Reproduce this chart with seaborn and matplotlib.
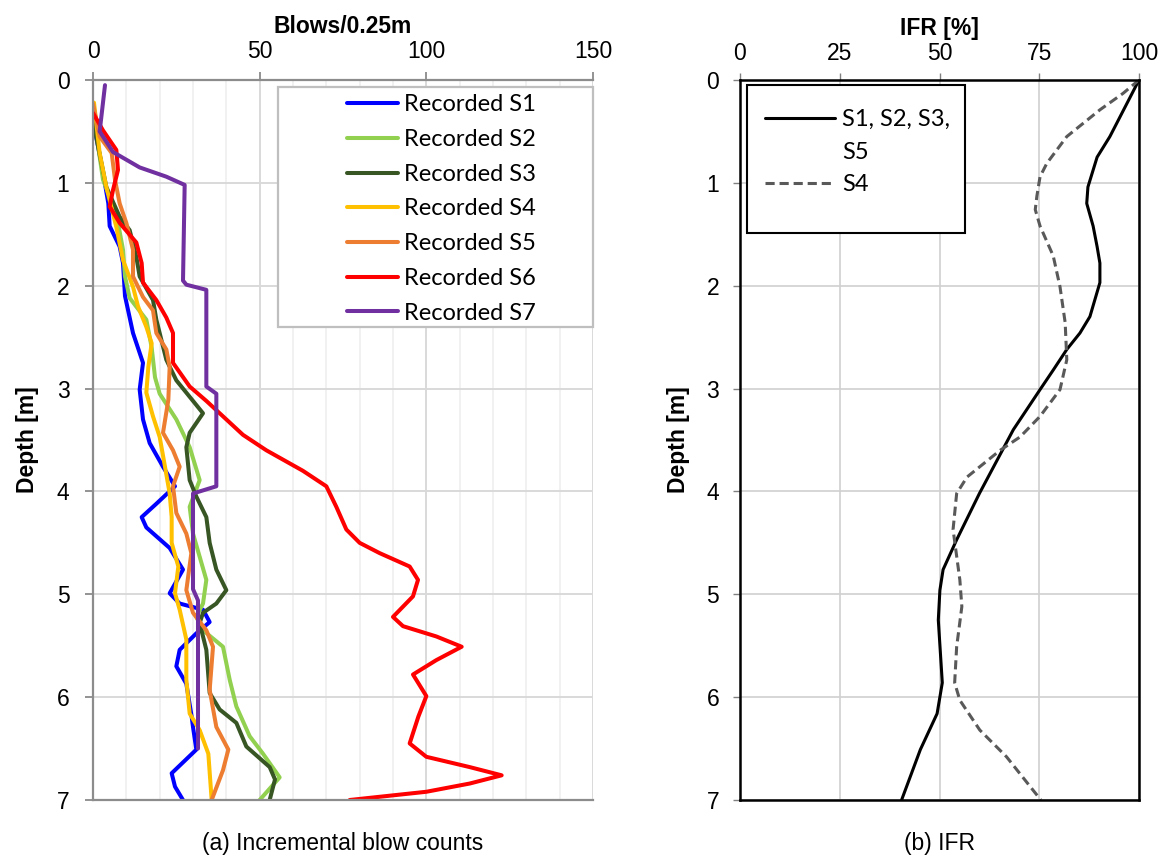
import matplotlib
matplotlib.use("Agg")
import matplotlib.pyplot as plt
from matplotlib.patches import Rectangle
import numpy as np
import pandas as pd
import seaborn as sns

# ---- Incremental blow counts (blows per 0.25 m) against depth (m) ----
s1_depth = [0.39, 0.9, 1.2, 1.42, 1.62, 1.78, 2.1, 2.46, 2.75, 3.01, 3.3, 3.53, 3.76, 3.95, 4.12, 4.25, 4.35, 4.55,
            4.76, 4.99, 5.09, 5.15, 5.27, 5.38, 5.54, 5.7, 5.87, 6.19, 6.29, 6.51, 6.74, 6.87, 7.0]
s1_blows = [0, 3, 4.6, 5, 8, 9, 9.6, 12, 15, 14, 15, 17, 21, 24.6, 19, 14.6, 16, 23,
            27, 23, 26, 33, 35, 31, 26, 25, 28, 29.6, 30, 31, 23.6, 24.6, 27]

s2_depth = [0.3, 0.97, 1.3, 1.65, 1.91, 2.12, 2.33, 2.6, 2.89, 3.05, 3.3, 3.57, 3.89, 4.15, 4.41, 4.86, 5.09,
            5.22, 5.35, 5.51, 5.83, 6.09, 6.38, 6.55, 6.78, 7.0]
s2_blows = [0, 3, 7, 9, 9.6, 11, 16, 17.6, 18.6, 20, 25, 29, 32, 29, 30, 34, 33,
            31, 33, 39, 41, 43, 47, 51, 56, 50]

s3_depth = [0.4, 1.04, 1.33, 1.46, 1.72, 1.91, 2.14, 2.33, 2.72, 2.92, 3.08, 3.24, 3.43, 3.57, 3.89, 4.05, 4.25,
            4.5, 4.76, 4.96, 5.09, 5.18, 5.28, 5.54, 5.96, 6.12, 6.25, 6.48, 6.68, 6.8, 7.0]
s3_blows = [0, 4, 8, 11, 13, 14, 18, 19, 22, 25, 29, 33, 29, 28, 29, 31, 34,
            35, 37, 40, 37, 33, 32, 34, 35, 38, 43, 46, 53, 54.6, 53]

s4_depth = [0.22, 0.71, 1.04, 1.43, 1.75, 2.01, 2.2, 2.4, 2.56, 2.79, 3.04, 3.27, 3.47, 3.76, 4.02, 4.25, 4.5,
            4.73, 4.99, 5.15, 5.44, 5.83, 6.16, 6.32, 6.55, 7.0]
s4_blows = [0.3, 2, 4, 7, 9, 12, 13.5, 16, 17.6, 16.6, 16, 18, 20, 21.6, 23, 23.6, 23.6,
            25.6, 24.6, 26, 28, 28, 29, 32, 34.6, 35.6]

s5_depth = [0.23, 0.55, 0.71, 0.97, 1.2, 1.39, 1.65, 1.91, 2.11, 2.24, 2.46, 2.62, 2.79, 3.11, 3.43, 3.6, 3.76,
            3.95, 4.21, 4.41, 4.6, 4.96, 5.18, 5.35, 5.51, 5.93, 6.29, 6.51, 6.71, 7.0]
s5_blows = [0, 2, 5.6, 6.6, 8, 10, 12, 12, 15, 18, 19, 22, 23, 22.6, 21, 24, 26,
            24, 25, 28, 29.5, 28, 30, 34, 36, 35, 37, 40.6, 39, 35.6]

s6_depth = [0.32, 0.49, 0.68, 0.875, 1.07, 1.23, 1.39, 1.58, 1.78, 1.97, 2.14, 2.31, 2.46, 2.75, 2.98, 3.12,
            3.27, 3.45, 3.6, 3.8, 3.95, 4.15, 4.37, 4.5, 4.6, 4.73, 4.86, 5.02, 5.22, 5.31, 5.41, 5.51, 5.64,
            5.78, 5.99, 6.19, 6.45, 6.58, 6.68, 6.76, 6.84, 6.92, 7.0]
s6_blows = [0, 3, 7, 7.5, 6, 5, 8, 13, 14.6, 15, 19, 22, 24, 24, 29, 34,
            39, 45, 52, 63, 70, 73, 76, 80, 86, 95, 97.5, 96, 90, 93, 103, 110.6, 103,
            96, 100, 97.6, 95, 100, 113, 122.6, 113, 100, 77]

s7_depth = [0.05, 0.5, 0.7, 0.85, 0.94, 1.02, 1.95, 1.99, 2.04, 2.98, 3.05, 3.95, 4.02, 4.95, 5.06, 6.5]
s7_blows = [3.6, 2.0, 6, 14, 22, 27.5, 27, 28, 34, 34, 37, 37, 30, 30, 31.5, 31.5]

series_names = ["Recorded S1", "Recorded S2", "Recorded S3", "Recorded S4",
                "Recorded S5", "Recorded S6", "Recorded S7"]
series_colors = ["#0000FF", "#92D050", "#375623", "#FFC000", "#ED7D31", "#FF0000", "#7030A0"]

# ---- IFR (%) against depth (m) ----
ifr_a_depth = [0.0, 0.55, 0.75, 1.04, 1.2, 1.42, 1.62, 1.78, 1.97, 2.3, 2.46, 2.62, 2.82, 3.01, 3.4, 4.02,
               4.47, 4.76, 4.96, 5.25, 5.86, 6.16, 6.51, 7.0]
ifr_a_value = [100, 92.7, 89.5, 87.2, 86.9, 88.5, 89.5, 90.2, 90.2, 87.7, 85.2, 81.9, 78.5, 75.2, 68.5, 60,
               54.3, 50.9, 50.1, 49.7, 50.7, 49.4, 45.2, 40.5]

ifr_b_depth = [0.0, 0.13, 0.29, 0.55, 0.81, 0.94, 1.13, 1.26, 1.42, 1.71, 2.01, 2.36, 2.72, 3.01, 3.27, 3.47,
               3.6, 3.86, 4.02, 4.37, 4.86, 5.12, 5.51, 5.86, 6.03, 6.32, 6.58, 7.0]
ifr_b_value = [100, 96, 90.2, 81.9, 76.9, 75.2, 74.4, 74.0, 75.2, 78.5, 80.2, 81.5, 81.9, 80.2, 75.2, 70.2,
               65.2, 56.9, 54.3, 53.4, 55.1, 55.6, 54.3, 53.8, 55.1, 60.1, 66.8, 75.4]
ifr_names = ["S1, S2, S3, S5", "S4"]

blow_depths = [s1_depth, s2_depth, s3_depth, s4_depth, s5_depth, s6_depth, s7_depth]
blow_values = [s1_blows, s2_blows, s3_blows, s4_blows, s5_blows, s6_blows, s7_blows]

blows_df = pd.concat(
    [pd.DataFrame({"depth": d, "blows": b, "series": n})
     for d, b, n in zip(blow_depths, blow_values, series_names)],
    ignore_index=True)
ifr_df = pd.concat(
    [pd.DataFrame({"depth": d, "ifr": v, "series": n})
     for d, v, n in zip([ifr_a_depth, ifr_b_depth], [ifr_a_value, ifr_b_value], ifr_names)],
    ignore_index=True)

sns.set_theme(style="white")
plt.rcParams["font.family"] = ["Liberation Sans", "DejaVu Sans"]
plt.rcParams["text.color"] = "black"
plt.rcParams["axes.labelcolor"] = "black"
plt.rcParams["xtick.color"] = "black"
plt.rcParams["ytick.color"] = "black"
plt.rcParams["lines.solid_joinstyle"] = "round"
plt.rcParams["lines.solid_capstyle"] = "round"

fig = plt.figure(figsize=(11.68, 8.63), dpi=100)
ax1 = fig.add_axes([93 / 1168, 1 - 800 / 863, 500 / 1168, 720 / 863])
ax2 = fig.add_axes([740 / 1168, 1 - 800 / 863, 399 / 1168, 720 / 863])

legend_font = {"family": "Lato", "size": 17}

# ---- left panel: blow counts ----
sns.lineplot(data=blows_df, x="blows", y="depth", hue="series", hue_order=series_names,
             palette=series_colors, sort=False, estimator=None, linewidth=2.9, ax=ax1, legend=False)
ax1.set_xlim(0, 150)
ax1.set_ylim(7, 0)
ax1.set_xticks([0, 50, 100, 150])
ax1.set_xticks(np.arange(0, 151, 10), minor=True)
ax1.set_yticks(range(0, 8))
ax1.grid(True, which="minor", axis="x", color="#EFEFEF", linewidth=1.2)
ax1.grid(True, which="major", axis="both", color="#D9D9D9", linewidth=1.4)
ax1.set_axisbelow(True)
ax1.xaxis.set_ticks_position("top")
ax1.xaxis.set_label_position("top")
ax1.tick_params(axis="x", which="major", direction="out", length=6, width=1.2, color="#808080",
                labelcolor="black", labelsize=16.5, pad=6, top=True, bottom=False)
ax1.tick_params(axis="x", which="minor", length=0)
ax1.tick_params(axis="y", direction="out", length=6, width=1.2, color="#808080", labelcolor="black",
                labelsize=16.5, pad=11, left=True)
for side in ["left", "top", "bottom"]:
    ax1.spines[side].set_color("#8C8C8C")
    ax1.spines[side].set_linewidth(1.6)
ax1.spines["right"].set_visible(False)
ax1.set_xlabel("Blows/0.25m", fontsize=16.5, fontweight="bold", labelpad=5)
ax1.set_ylabel("Depth [m]", fontsize=16.5, fontweight="bold", labelpad=13)

ax1.add_patch(Rectangle((0.37, 0.657), 0.63, 0.333, transform=ax1.transAxes, facecolor="white",
                        edgecolor="#BFBFBF", linewidth=1.6, zorder=4, clip_on=False))
handles1 = [plt.Line2D([], [], color=c, linewidth=2.9) for c in series_colors]
leg1 = ax1.legend(handles1, series_names, loc="upper left", bbox_to_anchor=(0.508, 0.980),
                  prop=legend_font, frameon=False, handlelength=2.15, handletextpad=0.25,
                  labelspacing=0.58, borderpad=0.0, borderaxespad=0.0)
leg1.set_zorder(5)

# ---- right panel: IFR ----
sns.lineplot(data=ifr_df, x="ifr", y="depth", hue="series", style="series", hue_order=ifr_names,
             style_order=ifr_names, palette=["#000000", "#595959"], dashes=[(None, None), (3, 1.6)],
             sort=False, estimator=None, linewidth=2.2, ax=ax2, legend=False)
ax2.set_xlim(0, 100)
ax2.set_ylim(7, 0)
ax2.set_xticks([0, 25, 50, 75, 100])
ax2.set_yticks(range(0, 8))
ax2.grid(True, which="major", color="#D0D0D0", linewidth=1.2)
ax2.set_axisbelow(True)
ax2.xaxis.set_ticks_position("top")
ax2.xaxis.set_label_position("top")
ax2.tick_params(axis="x", direction="out", length=5, width=1.0, color="#808080", labelcolor="black",
                labelsize=16.5, pad=6, top=True, bottom=False)
ax2.tick_params(axis="y", direction="out", length=5, width=1.0, color="#808080", labelcolor="black",
                labelsize=16.5, pad=10, left=True)
for side in ["left", "top", "bottom", "right"]:
    ax2.spines[side].set_color("#000000")
    ax2.spines[side].set_linewidth(1.8)
ax2.set_xlabel("IFR [%]", fontsize=16.5, fontweight="bold", labelpad=5)
ax2.set_ylabel("Depth [m]", fontsize=16.5, fontweight="bold", labelpad=12)

ax2.add_patch(Rectangle((0.0175, 0.7875), 0.546, 0.2056, transform=ax2.transAxes, facecolor="white",
                        edgecolor="#000000", linewidth=1.5, zorder=4, clip_on=False))
# the first label wraps onto a second row, so the second row gets an empty handle
handles2 = [plt.Line2D([], [], color="#000000", linewidth=2.2),
            plt.Line2D([], [], alpha=0),
            plt.Line2D([], [], color="#595959", linewidth=2.2, dashes=(3, 1.6))]
labels2 = ["S1, S2, S3,", "S5", ifr_names[1]]
leg2 = ax2.legend(handles2, labels2, loc="upper left", bbox_to_anchor=(0.0627, 0.960),
                  prop=legend_font, frameon=False, handlelength=2.95, handletextpad=0.3,
                  labelspacing=0.5, borderpad=0.0, borderaxespad=0.0)
leg2.set_zorder(5)

fig.text(343 / 1168, 1 - 843 / 863, "(a) Incremental blow counts", ha="center", va="center", fontsize=16.5)
fig.text(940 / 1168, 1 - 843 / 863, "(b) IFR", ha="center", va="center", fontsize=16.5)

fig.savefig("out.png", dpi=100, facecolor="white")
